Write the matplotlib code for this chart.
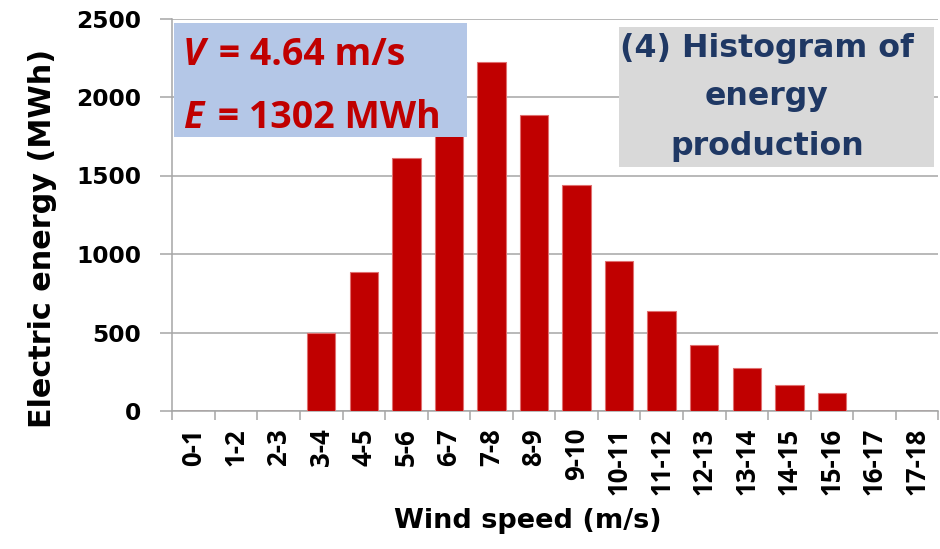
import matplotlib
matplotlib.use("Agg")
import matplotlib.pyplot as plt
from matplotlib.patches import Rectangle

# wind speed bins and energy per bin (MWh)
bins = ["0-1", "1-2", "2-3", "3-4", "4-5", "5-6", "6-7", "7-8", "8-9",
        "9-10", "10-11", "11-12", "12-13", "13-14", "14-15", "15-16",
        "16-17", "17-18"]
energy = [0, 0, 0, 496, 886, 1613, 1950, 2221, 1886,
          1441, 958, 636, 423, 274, 164, 112, 0, 0]
yticks = [0, 500, 1000, 1500, 2000, 2500]

plt.rcParams['font.family'] = 'DejaVu Sans'
plt.rcParams['font.weight'] = 'bold'

fig = plt.figure(figsize=(9.4, 5.49), dpi=100)
ax = fig.add_axes([172.3 / 940, 1 - 411 / 549, 766 / 940, (411 - 18.5) / 549])

x = list(range(len(bins)))
ax.bar(x, energy, width=0.667, color='#C00000', edgecolor='#E07070',
       linewidth=0.8, zorder=3)

ax.set_xlim(-0.5, len(bins) - 0.5)
ax.set_ylim(0, 2500)
ax.set_yticks(yticks)
ax.set_yticklabels([str(v) for v in yticks], fontsize=16.8, fontweight='bold')
ax.grid(axis='y', color='#A6A6A6', linewidth=1.1, zorder=0)
ax.set_axisbelow(True)

# labels at bin centres, tick marks at bin edges
ax.set_xticks(x)
ax.set_xticklabels(bins, rotation=90, fontsize=18.5, fontweight='bold',
                   family='Open Sans')
ax.set_xticks([i - 0.5 for i in range(len(bins) + 1)], minor=True)
ax.tick_params(axis='x', which='major', length=0, pad=12.2)
ax.tick_params(axis='x', which='minor', length=6.5, width=1.1, color='#A6A6A6')
ax.tick_params(axis='y', length=8.6, width=1.1, color='#A6A6A6', pad=14)

for s in ['top', 'right']:
    ax.spines[s].set_visible(False)
for s in ['left', 'bottom']:
    ax.spines[s].set_color('#A6A6A6')
    ax.spines[s].set_linewidth(1.1)

ax.set_ylabel("Electric energy (MWh)", fontsize=21.8, fontweight='bold')
ax.yaxis.set_label_coords(-0.151, 0.4408)
ax.set_xlabel("Wind speed (m/s)", fontsize=19.5, fontweight='bold')
ax.xaxis.set_label_coords(0.4637, -0.247)

# blue info box
fig.add_artist(Rectangle((174 / 940, 1 - 136.7 / 549), 293 / 940, 114 / 549,
                         transform=fig.transFigure, facecolor='#B4C7E7',
                         edgecolor='none', zorder=5))
red = '#C00000'
for sym, rest, yb in [("V", " = 4.64 m/s", 65), ("E", " = 1302 MWh", 128.3)]:
    t1 = fig.text(183 / 940, 1 - yb / 549, sym, fontsize=27, family='Open Sans',
                  fontweight='bold', fontstyle='italic', color=red,
                  va='baseline', zorder=6)
    fig.add_artist(plt.Annotation(rest, xy=(1, 0), xycoords=t1, va='bottom',
                                  xytext=(3, 0), textcoords='offset points',
                                  fontsize=27, family='Open Sans',
                                  fontweight='bold', color=red, zorder=6))

# grey title box
fig.add_artist(Rectangle((619 / 940, 1 - 166.7 / 549), 315 / 940, 140 / 549,
                         transform=fig.transFigure, facecolor='#D9D9D9',
                         edgecolor='none', zorder=5))
navy = '#1F3864'
for line, yb in [("(4) Histogram of", 56.7), ("energy", 105), ("production", 155)]:
    fig.text(767 / 940, 1 - yb / 549, line, fontsize=22.8, fontweight='bold',
             color=navy, ha='center', va='baseline', zorder=6)

fig.savefig("out.png", dpi=100)
